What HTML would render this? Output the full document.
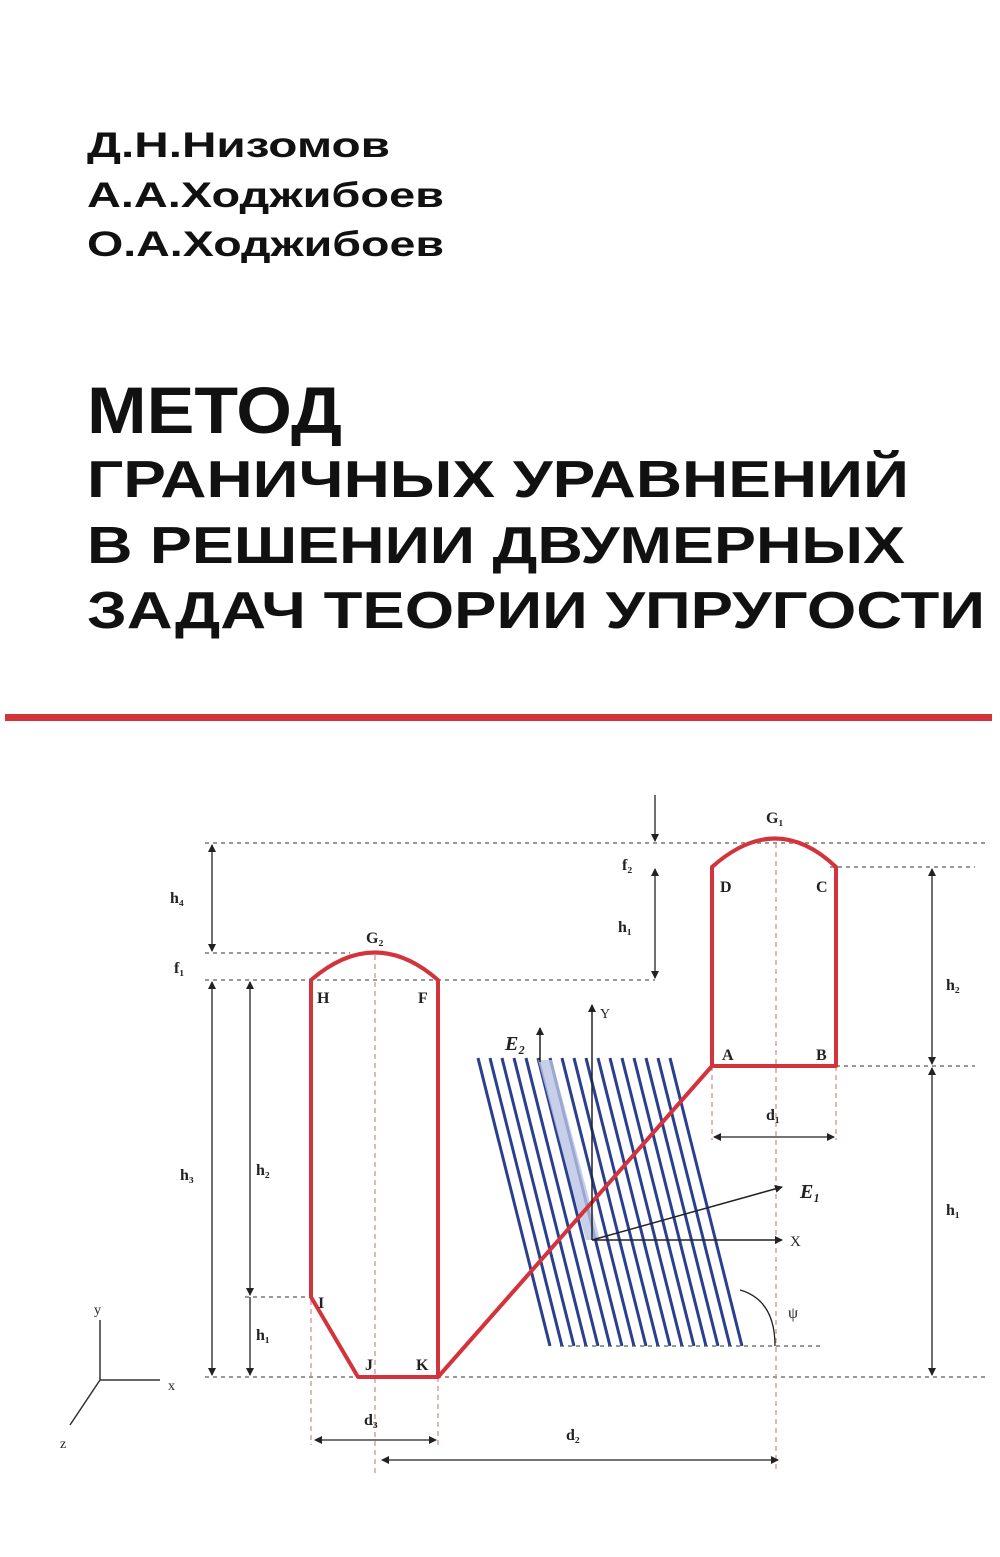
<!DOCTYPE html>
<html><head><meta charset="utf-8"><style>html,body{margin:0;padding:0;background:#fff}svg{display:block}</style></head>
<body>
<svg width="1000" height="1557" viewBox="0 0 1000 1557" xmlns="http://www.w3.org/2000/svg" font-family="Liberation Sans, sans-serif">
<defs>
<marker id="a" markerWidth="8" markerHeight="8" refX="7" refY="4" orient="auto" markerUnits="userSpaceOnUse"><path d="M0,0 L8,4 L0,8 z" fill="#222"/></marker>
</defs>
<g font-weight="bold" fill="#111">
<text x="87" y="157" font-size="35" textLength="303" lengthAdjust="spacingAndGlyphs">Д.Н.Низомов</text>
<text x="87" y="207" font-size="35" textLength="357" lengthAdjust="spacingAndGlyphs">А.А.Ходжибоев</text>
<text x="87" y="256" font-size="35" textLength="357" lengthAdjust="spacingAndGlyphs">О.А.Ходжибоев</text>
<text x="87" y="433" font-size="66" textLength="255" lengthAdjust="spacingAndGlyphs">МЕТОД</text>
<text x="87" y="497" font-size="52" textLength="822" lengthAdjust="spacingAndGlyphs">ГРАНИЧНЫХ УРАВНЕНИЙ</text>
<text x="87" y="563" font-size="52" textLength="818" lengthAdjust="spacingAndGlyphs">В РЕШЕНИИ ДВУМЕРНЫХ</text>
<text x="87" y="628" font-size="52" textLength="898" lengthAdjust="spacingAndGlyphs">ЗАДАЧ ТЕОРИИ УПРУГОСТИ</text>
</g>
<rect x="5" y="714" width="987" height="7" fill="#d3343c"/>

<!-- dashed lines -->
<g stroke="#999" stroke-width="2" stroke-dasharray="4,4" fill="none">
<line x1="205" y1="843" x2="985" y2="843"/>
<line x1="830" y1="867" x2="975" y2="867"/>
<line x1="205" y1="953" x2="350" y2="953"/>
<line x1="205" y1="980" x2="655" y2="980"/>
<line x1="205" y1="1377" x2="985" y2="1377"/>
<line x1="836" y1="1066" x2="975" y2="1066"/>
<line x1="560" y1="1346" x2="820" y2="1346"/>
<line x1="245" y1="1297" x2="311" y2="1297"/>
</g>
<g stroke="#c88" stroke-width="1.2" stroke-dasharray="5,4" fill="none">
<line x1="375" y1="955" x2="375" y2="1475"/>
<line x1="776" y1="843" x2="776" y2="1470"/>
<line x1="311" y1="1300" x2="311" y2="1445"/>
<line x1="438" y1="1377" x2="438" y2="1445"/>
<line x1="712" y1="1066" x2="712" y2="1140"/>
<line x1="836" y1="1066" x2="836" y2="1140"/>
</g>

<!-- dimension arrows -->
<g stroke="#222" stroke-width="1.3" fill="none" marker-end="url(#a)">
<line x1="212" y1="900" x2="212" y2="845"/><line x1="212" y1="900" x2="212" y2="951"/>
<line x1="212" y1="1180" x2="212" y2="982"/><line x1="212" y1="1180" x2="212" y2="1375"/>
<line x1="250" y1="1140" x2="250" y2="982"/><line x1="250" y1="1140" x2="250" y2="1295"/>
<line x1="250" y1="1297" x2="250" y2="1375"/>
<line x1="655" y1="795" x2="655" y2="841"/>
<line x1="655" y1="890" x2="655" y2="869"/><line x1="655" y1="890" x2="655" y2="978"/>
<line x1="932" y1="960" x2="932" y2="869"/><line x1="932" y1="960" x2="932" y2="1064"/>
<line x1="932" y1="1220" x2="932" y2="1068"/><line x1="932" y1="1220" x2="932" y2="1375"/>
<line x1="774" y1="1137" x2="714" y2="1137"/><line x1="774" y1="1137" x2="834" y2="1137"/>
<line x1="375" y1="1440" x2="315" y2="1440"/><line x1="375" y1="1440" x2="436" y2="1440"/>
<line x1="580" y1="1460" x2="382" y2="1460"/><line x1="580" y1="1460" x2="778" y2="1460"/>
</g>

<!-- blue hatch -->
<g stroke="#2a3f8f" stroke-width="3">
<line x1="478" y1="1058" x2="550" y2="1346"/><line x1="490" y1="1058" x2="562" y2="1346"/>
<line x1="502" y1="1058" x2="574" y2="1346"/><line x1="514" y1="1058" x2="586" y2="1346"/>
<line x1="526" y1="1058" x2="598" y2="1346"/><line x1="538" y1="1058" x2="610" y2="1346"/>
<line x1="550" y1="1058" x2="622" y2="1346"/><line x1="562" y1="1058" x2="634" y2="1346"/>
<line x1="574" y1="1058" x2="646" y2="1346"/><line x1="586" y1="1058" x2="658" y2="1346"/>
<line x1="598" y1="1058" x2="670" y2="1346"/><line x1="610" y1="1058" x2="682" y2="1346"/>
<line x1="622" y1="1058" x2="694" y2="1346"/><line x1="634" y1="1058" x2="706" y2="1346"/>
<line x1="646" y1="1058" x2="718" y2="1346"/><line x1="658" y1="1058" x2="730" y2="1346"/>
<line x1="670" y1="1058" x2="742" y2="1346"/>
</g>
<polygon points="538,1060 552,1060 600,1240 586,1240" fill="#b9c3e3" opacity="0.8"/>

<!-- red shapes -->
<g stroke="#d3343c" stroke-width="4" fill="none" stroke-linejoin="round">
<path d="M712,1066 L712,867 Q776,810 836,867 L836,1066 Z"/>
<path d="M311,980 Q375,925 438,980 L438,1377 L358,1377 L311,1297 Z"/>
<line x1="438" y1="1377" x2="712" y2="1066"/>
</g>

<!-- axes -->
<g stroke="#222" stroke-width="1.5" fill="none" marker-end="url(#a)">
<line x1="592" y1="1240" x2="592" y2="1005"/>
<line x1="592" y1="1240" x2="782" y2="1240"/>
<line x1="592" y1="1240" x2="782" y2="1187"/>
<line x1="540" y1="1062" x2="540" y2="1028"/>
</g>
<path d="M740,1290 Q775,1300 775,1346" stroke="#222" stroke-width="1.3" fill="none"/>
<g stroke="#333" stroke-width="1.5" fill="none">
<line x1="100" y1="1380" x2="100" y2="1320"/><line x1="100" y1="1380" x2="160" y2="1380"/><line x1="100" y1="1380" x2="70" y2="1425"/>
</g>

<g font-family="Liberation Serif, serif" fill="#222" font-size="16" font-weight="bold">
<text x="170" y="903">h₄</text><text x="174" y="973">f₁</text>
<text x="180" y="1180">h₃</text><text x="256" y="1175">h₂</text><text x="256" y="1340">h₁</text>
<text x="366" y="943">G₂</text><text x="317" y="1003">H</text><text x="418" y="1003">F</text>
<text x="318" y="1308">I</text><text x="365" y="1370">J</text><text x="416" y="1370">K</text>
<text x="364" y="1425">d₃</text><text x="566" y="1440">d₂</text>
<text x="766" y="823">G₁</text><text x="622" y="870">f₂</text><text x="618" y="932">h₁</text>
<text x="720" y="892">D</text><text x="816" y="892">C</text><text x="722" y="1060">A</text><text x="816" y="1060">B</text>
<text x="946" y="990">h₂</text><text x="946" y="1215">h₁</text><text x="766" y="1120">d₁</text>
<text x="600" y="1018" font-size="14" font-weight="normal">Y</text>
<text x="790" y="1246" font-size="15" font-weight="normal">X</text>
<text x="800" y="1198" font-size="20" font-style="italic">E₁</text>
<text x="505" y="1050" font-size="20" font-style="italic">E₂</text>
<text x="788" y="1318" font-size="16" font-weight="normal">ψ</text>
<text x="94" y="1314" font-size="14" font-weight="normal">y</text>
<text x="168" y="1390" font-size="14" font-weight="normal">x</text>
<text x="60" y="1448" font-size="14" font-weight="normal">z</text>
</g>
</svg>
</body></html>
